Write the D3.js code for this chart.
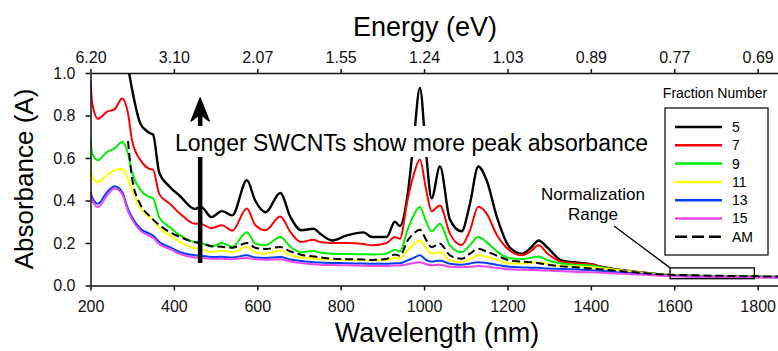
<!DOCTYPE html>
<html>
<head>
<meta charset="utf-8">
<script src="https://cdn.jsdelivr.net/npm/d3@7"></script>
<style>
    body { margin: 0; background: #fff; }
    text { font-family: "Liberation Sans", Arial, sans-serif; }
</style>
</head>
<body>
<div id="chart"></div>
<script>
// Wavelength grid (nm) shared by all spectra
const wavelengths = [200, 204, 218, 240, 258, 276, 290, 300, 320, 340, 350, 365, 390, 415, 450, 465, 490, 515, 540, 575,
    595, 620, 655, 680, 705, 735, 750, 780, 815, 855, 875, 910, 930, 942, 960, 975, 990, 1005, 1018, 1038,
    1062, 1090, 1110, 1130, 1150, 1175, 1205, 1235, 1255, 1275, 1295, 1330, 1370, 1400, 1430, 1480, 1550, 1600, 1700, 1800, 1850];

// Absorbance of each fraction (null = not measured)
const fraction5 = [null, null, null, null, null, null, 1.03, 0.92, 0.76, 0.72, 0.71, 0.53, 0.465, 0.42, 0.36, 0.37, 0.322, 0.35, 0.33, 0.495,
    0.40, 0.345, 0.435, 0.32, 0.26, 0.267, 0.245, 0.212, 0.236, 0.25, 0.228, 0.228, 0.30, 0.28, 0.42, 0.68, 0.93, 0.62, 0.41, 0.56,
    0.31, 0.255, 0.385, 0.56, 0.495, 0.32, 0.18, 0.15, 0.175, 0.212, 0.18, 0.118, 0.107, 0.10, 0.086, 0.071, 0.055, 0.047, 0.043, 0.040, 0.040];
const fraction7 = [0.965, 0.86, 0.785, 0.818, 0.83, 0.88, 0.81, 0.68, 0.59, 0.55, 0.545, 0.43, 0.385, 0.338, 0.291, 0.29, 0.27, 0.283, 0.258, 0.362,
    0.285, 0.26, 0.325, 0.25, 0.205, 0.215, 0.205, 0.20, 0.20, 0.195, 0.189, 0.20, 0.228, 0.22, 0.40, 0.52, 0.593, 0.45, 0.35, 0.377,
    0.244, 0.19, 0.259, 0.37, 0.338, 0.236, 0.165, 0.142, 0.16, 0.189, 0.152, 0.112, 0.104, 0.10, 0.086, 0.071, 0.056, 0.048, 0.044, 0.041, 0.040];
const fraction9 = [0.70, 0.62, 0.59, 0.629, 0.645, 0.676, 0.62, 0.53, 0.45, 0.417, 0.41, 0.32, 0.275, 0.236, 0.204, 0.20, 0.183, 0.20, 0.182, 0.251,
    0.198, 0.19, 0.228, 0.181, 0.157, 0.162, 0.155, 0.149, 0.148, 0.147, 0.146, 0.15, 0.168, 0.16, 0.26, 0.33, 0.369, 0.30, 0.255, 0.291,
    0.189, 0.157, 0.19, 0.228, 0.204, 0.16, 0.128, 0.125, 0.13, 0.137, 0.12, 0.103, 0.097, 0.094, 0.084, 0.070, 0.056, 0.048, 0.044, 0.041, 0.040];
const fraction11 = [0.58, 0.51, 0.487, 0.52, 0.542, 0.548, 0.50, 0.45, 0.362, 0.325, 0.31, 0.27, 0.236, 0.204, 0.175, 0.17, 0.158, 0.165, 0.157, 0.181,
    0.155, 0.15, 0.165, 0.142, 0.132, 0.126, 0.124, 0.122, 0.12, 0.119, 0.118, 0.12, 0.13, 0.127, 0.165, 0.195, 0.212, 0.175, 0.15, 0.157,
    0.118, 0.11, 0.125, 0.142, 0.135, 0.12, 0.103, 0.104, 0.106, 0.11, 0.102, 0.092, 0.09, 0.086, 0.08, 0.068, 0.055, 0.047, 0.043, 0.040, 0.040];
const fraction13 = [0.44, 0.415, 0.385, 0.44, 0.467, 0.44, 0.36, 0.32, 0.267, 0.245, 0.235, 0.205, 0.181, 0.157, 0.142, 0.14, 0.134, 0.135, 0.132, 0.142,
    0.132, 0.13, 0.134, 0.122, 0.115, 0.11, 0.108, 0.106, 0.105, 0.103, 0.102, 0.102, 0.105, 0.105, 0.118, 0.13, 0.142, 0.12, 0.112, 0.118,
    0.102, 0.098, 0.104, 0.11, 0.106, 0.097, 0.088, 0.085, 0.084, 0.083, 0.08, 0.078, 0.075, 0.072, 0.068, 0.060, 0.052, 0.046, 0.042, 0.040, 0.039];
const fraction15 = [0.43, 0.40, 0.37, 0.425, 0.456, 0.43, 0.35, 0.31, 0.257, 0.235, 0.225, 0.195, 0.172, 0.148, 0.132, 0.13, 0.126, 0.126, 0.124, 0.13,
    0.123, 0.121, 0.124, 0.113, 0.106, 0.10, 0.098, 0.096, 0.095, 0.093, 0.092, 0.092, 0.094, 0.094, 0.10, 0.106, 0.11, 0.10, 0.095, 0.098,
    0.088, 0.086, 0.088, 0.092, 0.089, 0.083, 0.076, 0.074, 0.073, 0.072, 0.07, 0.067, 0.064, 0.062, 0.06, 0.055, 0.048, 0.044, 0.041, 0.039, 0.038];
const fractionAM = [null, null, null, null, null, null, 0.68, 0.50, 0.38, 0.33, 0.31, 0.285, 0.251, 0.228, 0.204, 0.20, 0.185, 0.182, 0.178, 0.20,
    0.178, 0.172, 0.181, 0.16, 0.145, 0.137, 0.133, 0.126, 0.124, 0.122, 0.12, 0.125, 0.146, 0.14, 0.21, 0.245, 0.262, 0.215, 0.181, 0.197,
    0.142, 0.126, 0.15, 0.173, 0.16, 0.14, 0.118, 0.112, 0.11, 0.105, 0.098, 0.09, 0.085, 0.08, 0.075, 0.066, 0.055, 0.050, 0.046, 0.043, 0.042];

const seriesNames = ["5", "7", "9", "11", "13", "15", "AM"];
const seriesValues = [fraction5, fraction7, fraction9, fraction11, fraction13, fraction15, fractionAM];

// Axis ticks
const wavelengthTicks = [200, 400, 600, 800, 1000, 1200, 1400, 1600, 1800];
const energyLabels = ["6.20", "3.10", "2.07", "1.55", "1.24", "1.03", "0.89", "0.77", "0.69"];
const absorbanceTicks = [0.0, 0.2, 0.4, 0.6, 0.8, 1.0];
const normalizationRange = [1590, 1792];

// Styles
const colors = ["#000000", "#ff0000", "#00ee00", "#ffff00", "#0040ff", "#ee44ee", "#000000"];

function renderChart(container) {
    const width = 778, height = 351;
    const svg = d3.select(container).append('svg')
        .attr('width', width)
        .attr('height', height);

    const x = d3.scaleLinear().domain([200, 1850]).range([90.5, 778.5]);
    const y = d3.scaleLinear().domain([0, 1]).range([285.5, 73]);

    svg.append('clipPath').attr('id', 'plotClip')
        .append('rect')
        .attr('x', x(200)).attr('y', y(1))
        .attr('width', x(1850) - x(200)).attr('height', y(0) - y(1));

    // Spectra
    const line = d3.line()
        .defined(d => d[1] !== null)
        .x(d => x(d[0]))
        .y(d => y(d[1]))
        .curve(d3.curveMonotoneX);

    const curves = svg.append('g').attr('clip-path', 'url(#plotClip)');
    seriesValues.forEach((vals, i) => {
        const pts = wavelengths.map((w, j) => [w, vals[j]]);
        curves.append('path')
            .datum(pts)
            .attr('d', line)
            .attr('fill', 'none')
            .attr('stroke', colors[i])
            .attr('stroke-width', i === 0 ? 2.4 : 2)
            .attr('stroke-dasharray', seriesNames[i] === 'AM' ? '8,4' : null)
            .attr('stroke-linejoin', 'round');
    });

    // Axes
    const bottomAxis = svg.append('g')
        .attr('transform', `translate(0,${y(0)})`)
        .call(d3.axisBottom(x).tickValues(wavelengthTicks).tickFormat(d3.format('d'))
            .tickSize(5).tickPadding(10).tickSizeOuter(0));
    const topAxis = svg.append('g')
        .attr('transform', `translate(0,${y(1)})`)
        .call(d3.axisTop(x).tickValues(wavelengthTicks)
            .tickFormat((d, i) => energyLabels[i]).tickSize(4).tickPadding(6).tickSizeOuter(0));
    const leftAxis = svg.append('g')
        .attr('transform', `translate(${x(200)},0)`)
        .call(d3.axisLeft(y).tickValues(absorbanceTicks).tickFormat(d3.format('.1f'))
            .tickSize(5).tickPadding(10).tickSizeOuter(0));

    [bottomAxis, topAxis, leftAxis].forEach(g => {
        g.selectAll('path, line').attr('stroke', '#111').attr('stroke-width', 1.5);
        g.selectAll('text').attr('font-size', 16).attr('fill', '#111')
            .attr('font-family', '"Liberation Sans", Arial, sans-serif');
    });

    // Axis titles
    svg.append('text').attr('x', 425).attr('y', 36)
        .attr('text-anchor', 'middle').attr('font-size', 27).text('Energy (eV)');
    svg.append('text').attr('x', 437).attr('y', 342)
        .attr('text-anchor', 'middle').attr('font-size', 27).text('Wavelength (nm)');
    svg.append('text')
        .attr('transform', 'translate(33,179) rotate(-90)')
        .attr('text-anchor', 'middle').attr('font-size', 26).text('Absorbance (A)');

    // Arrow showing the trend
    const arrowX = x(463);
    svg.append('line')
        .attr('x1', arrowX).attr('x2', arrowX)
        .attr('y1', 263).attr('y2', 112)
        .attr('stroke', '#000').attr('stroke-width', 4.5);
    svg.append('path')
        .attr('d', `M${arrowX},98 L${arrowX + 9},121 L${arrowX},114 L${arrowX - 9},121 Z`)
        .attr('fill', '#000').attr('stroke', '#000').attr('stroke-width', 1.5).attr('stroke-linejoin', 'round');

    // Annotation with white background
    svg.append('rect')
        .attr('x', 172).attr('y', 126).attr('width', 488).attr('height', 31)
        .attr('fill', '#fff');
    svg.append('text').attr('x', 175).attr('y', 151)
        .attr('font-size', 23).text('Longer SWCNTs show more peak absorbance');

    // Normalization range box + leader
    svg.append('rect')
        .attr('x', x(normalizationRange[0])).attr('y', y(0.083))
        .attr('width', x(normalizationRange[1]) - x(normalizationRange[0]))
        .attr('height', y(0.032) - y(0.083))
        .attr('fill', 'none').attr('stroke', '#000').attr('stroke-width', 1.3);
    svg.append('line')
        .attr('x1', 614).attr('y1', 226)
        .attr('x2', x(normalizationRange[0])).attr('y2', y(0.083))
        .attr('stroke', '#000').attr('stroke-width', 1.3);
    svg.append('text').attr('x', 593).attr('y', 200)
        .attr('text-anchor', 'middle').attr('font-size', 17).text('Normalization');
    svg.append('text').attr('x', 593).attr('y', 220)
        .attr('text-anchor', 'middle').attr('font-size', 17).text('Range');

    // Legend
    svg.append('text').attr('x', 715).attr('y', 98)
        .attr('text-anchor', 'middle').attr('font-size', 14).text('Fraction Number');
    svg.append('rect')
        .attr('x', 665).attr('y', 108).attr('width', 103).attr('height', 147)
        .attr('fill', '#fff').attr('stroke', '#000').attr('stroke-width', 1.2);
    const legend = svg.append('g');
    seriesNames.forEach((name, i) => {
        const ly = 127 + i * 18.3;
        legend.append('line')
            .attr('x1', 675).attr('x2', 722).attr('y1', ly).attr('y2', ly)
            .attr('stroke', colors[i]).attr('stroke-width', 2.5)
            .attr('stroke-dasharray', name === 'AM' ? '12,5' : null);
        legend.append('text')
            .attr('x', 732).attr('y', ly).attr('dy', '0.35em')
            .attr('font-size', 14).text(name);
    });
}

document.addEventListener('DOMContentLoaded', function () {
    renderChart('#chart');
});
</script>
</body>
</html>
